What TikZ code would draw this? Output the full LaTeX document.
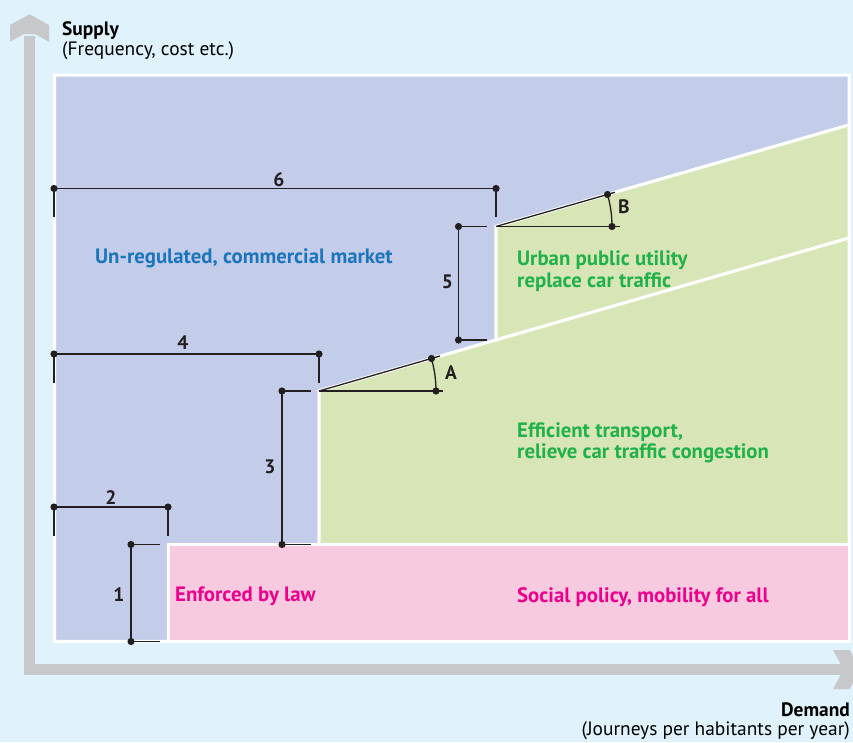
\documentclass[tikz,border=0pt]{standalone}
\usepackage{fontspec}
\setmainfont{PT Sans}
\definecolor{bgblue}{HTML}{E0F2FC}
\definecolor{axisgray}{HTML}{C6C8CA}
\definecolor{marketblue}{HTML}{C3CDE9}
\definecolor{utilgreen}{HTML}{D8E6B7}
\definecolor{lawpink}{HTML}{F7CADF}
\definecolor{txtblue}{HTML}{1C75BC}
\definecolor{txtgreen}{HTML}{21B14B}
\definecolor{txtpink}{HTML}{EC008C}
\definecolor{ink}{HTML}{231F20}
\tikzset{
  region/.style={draw=white, line width=3pt, line join=miter},
  dimline/.style={draw=ink, line width=1.3pt},
  dimdot/.style={fill=ink},
  dimlabel/.style={font=\fontsize{19.5}{20}\selectfont\bfseries, text=ink, inner sep=0pt},
  zonelabel/.style={font=\fontsize{20.8}{22}\selectfont\bfseries, anchor=base west, inner sep=0pt},
  axislabel/.style={font=\fontsize{19.4}{20}\selectfont, inner sep=0pt},
}
\begin{document}
\begin{tikzpicture}[line cap=butt, line join=round, x=1pt, y=-1pt]

                \useasboundingbox (0,0) rectangle (853,742);
                \fill[bgblue] (0,0) rectangle (853,742);

                \draw[axisgray, line width=11pt, line join=miter] (29.5,36) -- (29.5,669.5) -- (841,669.5);
                \fill[axisgray] (29.5,14.3) -- (49,25) -- (49,41.7) -- (35,34) -- (24,34) -- (10,41.7) -- (10,25) -- cycle;
                \fill[axisgray] (860.4,669.5) -- (849.7,650) -- (833,650) -- (840.7,664) -- (840.7,675) -- (833,689) -- (849.7,689) -- cycle;

                \coordinate (tl) at (54.5,75);
                \coordinate (tr) at (849,75);
                \coordinate (bl) at (54.5,641.3);
                \coordinate (br) at (849,641.3);
                \coordinate (cB) at (496,226.5);
                \coordinate (cA) at (319,391);
                \coordinate (rB) at (849,125);
                \coordinate (rA) at (849,238);
                \coordinate (mA) at (496,340);
                \coordinate (lawtop) at (168.3,544.5);

                \fill[marketblue, region] (tl) -- (tr) -- (rB) -- (cB) -- (mA) -- (cA) -- (319,544.5) -- (lawtop) -- (168.3,641.3) -- (bl) -- cycle;
                \fill[utilgreen, region] (cB) -- (rB) -- (rA) -- (mA) -- cycle;
                \fill[utilgreen, region] (cA) -- (mA) -- (rA) -- (849,544.5) -- (319,544.5) -- cycle;
                \fill[lawpink, region] (lawtop) -- (849,544.5) -- (br) -- (168.3,641.3) -- cycle;

                \node[zonelabel, text=txtblue] (market) at (95,263) {Un-regulated, commercial market};
                \node[zonelabel, text=txtgreen] (urban1) at (517,265) {Urban public utility};
                \node[zonelabel, text=txtgreen] (urban2) at (517,287) {replace car traffic};
                \node[zonelabel, text=txtgreen] (effic1) at (517,437) {Efficient transport,};
                \node[zonelabel, text=txtgreen] (effic2) at (517,458) {relieve car traffic congestion};
                \node[zonelabel, text=txtpink] (law) at (175,601) {Enforced by law};
                \node[zonelabel, text=txtpink] (social) at (517,602) {Social policy, mobility for all};

                \node[axislabel, anchor=base west, font=\fontsize{19.4}{20}\selectfont\bfseries] (supply) at (62,35) {Supply};
                \node[axislabel, anchor=base west] (supplyunit) at (62,55) {(Frequency, cost etc.)};
                \node[axislabel, anchor=base east, font=\fontsize{19.4}{20}\selectfont\bfseries] (demand) at (850,716) {Demand};
                \node[axislabel, anchor=base east] (demandunit) at (850,735) {(Journeys per habitants per year)};

                \coordinate (d1a) at (131,544.5);
                \coordinate (d1b) at (131,641.5);
                \draw[dimline] (d1a) -- (d1b);
                \draw[dimline] (d1a) -- (160,544.5);
                \draw[dimline] (d1b) -- (160,641.5);
                \node[dimlabel] (n1) at (119,595) {1};

                \coordinate (d2a) at (54,507);
                \coordinate (d2b) at (168,507);
                \draw[dimline] (d2a) -- (d2b);
                \draw[dimline] (d2a) -- (54,536);
                \draw[dimline] (d2b) -- (168,536);
                \node[dimlabel] (n2) at (111,498) {2};

                \coordinate (d3a) at (282,391);
                \coordinate (d3b) at (282,544.5);
                \draw[dimline] (d3a) -- (d3b);
                \draw[dimline] (d3a) -- (311,391);
                \draw[dimline] (d3b) -- (311,544.5);
                \node[dimlabel] (n3) at (270,467) {3};

                \coordinate (d4a) at (54,354);
                \coordinate (d4b) at (319,354);
                \draw[dimline] (d4a) -- (d4b);
                \draw[dimline] (d4a) -- (54,383);
                \draw[dimline] (d4b) -- (319,383);
                \node[dimlabel] (n4) at (183,343) {4};

                \coordinate (d5a) at (458.5,226.5);
                \coordinate (d5b) at (458.5,340);
                \draw[dimline] (d5a) -- (d5b);
                \draw[dimline] (d5a) -- (487,226.5);
                \draw[dimline] (d5b) -- (487,340);
                \node[dimlabel] (n5) at (447.5,282) {5};

                \coordinate (d6a) at (54,188.5);
                \coordinate (d6b) at (496,188.5);
                \draw[dimline] (d6a) -- (d6b);
                \draw[dimline] (d6a) -- (54,217);
                \draw[dimline] (d6b) -- (496,217);
                \node[dimlabel] (n6) at (279,180) {6};

                \coordinate (aAh) at (436,391);
                \coordinate (aAs) at (431.5,358.5);
                \draw[dimline] (cA) -- (443,391);
                \draw[dimline] (cA) -- (440,356);
                \draw[dimline] (aAh) arc[start angle=0, end angle=-16.1, radius=117];
                \node[dimlabel] (nA) at (451,373) {A};

                \coordinate (aBh) at (612,226.5);
                \coordinate (aBs) at (607.5,194.5);
                \draw[dimline] (cB) -- (620,226.5);
                \draw[dimline] (cB) -- (615,192.3);
                \draw[dimline] (aBh) arc[start angle=0, end angle=-16.1, radius=116];
                \node[dimlabel] (nB) at (624,207) {B};

                \foreach \p in {d1a,d1b,d2a,d2b,d3a,d3b,d4a,d4b,d5a,d5b,d6a,d6b,aAh,aAs,aBh,aBs}
                    \fill[dimdot] (\p) circle[radius=3.6];

\end{tikzpicture}
\end{document}
